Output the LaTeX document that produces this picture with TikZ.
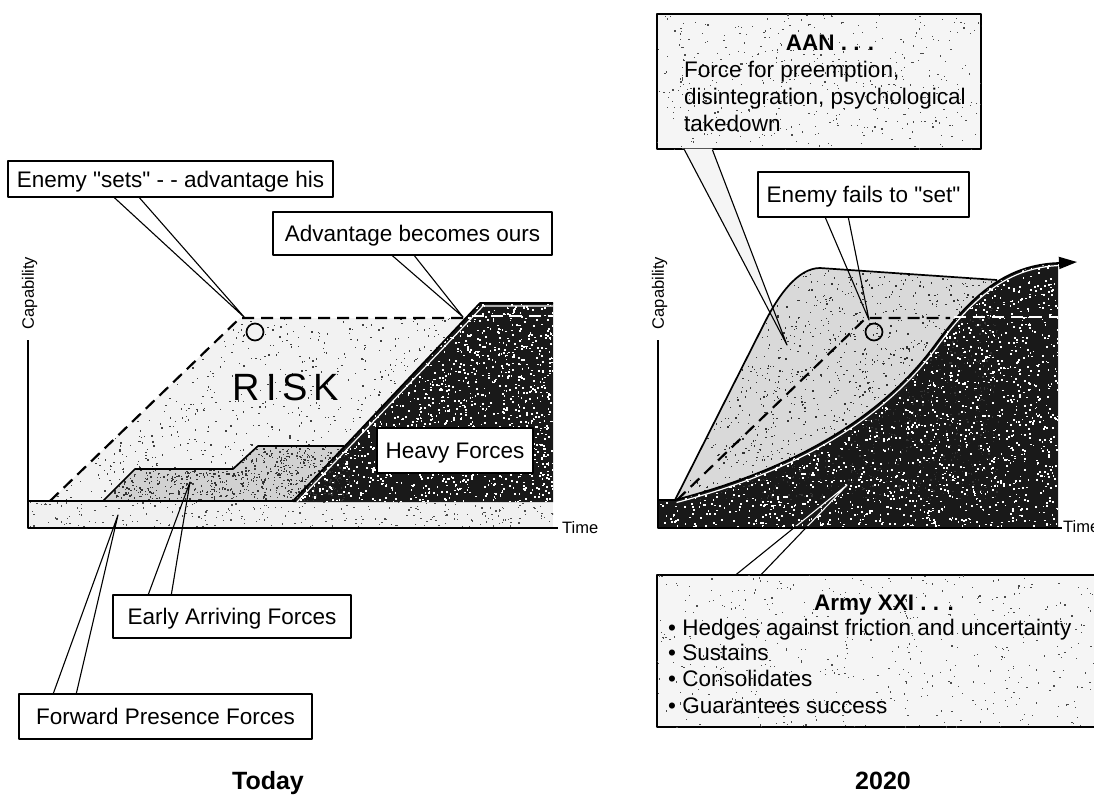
\documentclass[tikz,border=0pt]{standalone}
\usepackage{fontspec}
\setmainfont{Liberation Sans}[Ligatures=TeXOff]
\usetikzlibrary{calc,arrows.meta}
\definecolor{riskgray}{gray}{0.95}
\definecolor{earlygray}{gray}{0.82}
\definecolor{stripgray}{gray}{0.94}
\definecolor{heavygray}{gray}{0.10}
\definecolor{aangray}{gray}{0.85}
\definecolor{boxgray}{gray}{0.96}

% random stipple: count, colour, x0, y0, width, height, dot size
\newcommand\scatterdots[7]{%
  \foreach \i in {1,...,#1}{%
    \pgfmathsetmacro\spx{#3+rnd*#5}%
    \pgfmathsetmacro\spy{#4+rnd*#6}%
    \fill[#2] (\spx,\spy) rectangle ++(#7,#7);
  }}

\begin{document}
\begin{tikzpicture}[x=1pt,y=-1pt,line join=round,
  txt/.style={font=\fontsize{22.5}{27}\selectfont, inner sep=0pt, text height=16pt, text depth=0pt},
  axislbl/.style={font=\fontsize{16.5}{18}\selectfont, inner sep=0pt},
  callbox/.style={txt, draw=black, line width=1.3pt, fill=white},
  stipbox/.style={draw=black, line width=1.3pt, fill=boxgray, inner sep=0pt},
  pointer/.style={line width=1.1pt},
  bound/.style={line width=1.7pt},
  guide/.style={line width=2.2pt, dash pattern=on 12pt off 7pt},
  setring/.style={circle, draw=black, line width=1.7pt, minimum size=17pt, inner sep=0pt},
  heading/.style={font=\fontsize{25}{30}\selectfont\bfseries, inner sep=0pt, text height=17pt, text depth=0pt},
]
\useasboundingbox (0,0) rectangle (1094,795);
\clip (0,0) rectangle (1094,795);
\pgfmathsetseed{4711}

% ================= Today =================
% forward presence strip
\fill[stripgray] (28,501) rectangle (553,528);
% risk area between the enemy build-up and our capability
\fill[riskgray] (50,501) -- (240,318) -- (466,318) -- (293,501) -- cycle;
% early arriving forces
\fill[earlygray] (103,501) -- (135,469) -- (233,469) -- (258,446) -- (350,446) -- (350,501) -- cycle;
% heavy forces
\fill[heavygray] (293,502) -- (480,303) -- (553,303) -- (553,502) -- cycle;

% stipple textures
\begin{scope}
  \clip (28,501) rectangle (553,528);
  \scatterdots{260}{black!70}{28}{501}{525}{27}{1.3}
\end{scope}
\begin{scope}
  \clip (50,501) -- (240,318) -- (466,318) -- (293,501) -- cycle;
  \scatterdots{900}{black!75}{50}{318}{416}{183}{1.3}
\end{scope}
\begin{scope}
  \clip (103,501) -- (135,469) -- (233,469) -- (258,446) -- (350,446) -- (350,501) -- cycle;
  \scatterdots{800}{black!80}{103}{446}{247}{55}{1.4}
\end{scope}
\begin{scope}
  \clip (293,502) -- (480,303) -- (553,303) -- (553,502) -- cycle;
  \scatterdots{1900}{white}{293}{303}{260}{199}{1.7}
\end{scope}

\draw[white, line width=1.2pt] (297,502) -- (483,306) -- (553,306);
\draw[bound] (293,501) -- (480,303) -- (553,303);
\draw[white, guide, line width=1.5pt] (472,316) -- (553,316);
\draw[bound] (103,501) -- (135,469) -- (233,469) -- (258,446) -- (344,446);
\draw[guide] (50,501) -- (240,318) -- (466,318);
\draw[bound] (28,501) -- (296,501);
\draw[bound] (28,340) -- (28,528) -- (558,528);
\node[axislbl, anchor=west] (timeL) at (562,528) {Time};
\node[axislbl, rotate=90] (capL) at (29.5,293) {Capability};
\node[setring] (setL) at (255,332) {};
\node[font=\fontsize{38}{40}\selectfont, inner sep=0pt] (risk) at (286,387) {R\hspace{6pt}I\hspace{6pt}S\hspace{6pt}K};

% callouts
\node[callbox, minimum width=325pt, minimum height=36pt] (enemyBox) at (170.5,179) {Enemy "sets" - - advantage his};
\coordinate (enemyTip) at (245,318);
\draw[pointer] ($(enemyBox.south west)+(107,0)$) -- (enemyTip) -- ($(enemyBox.south west)+(132,0)$);

\node[callbox, minimum width=279pt, minimum height=43pt] (advBox) at (412.5,233.5) {Advantage becomes ours};
\coordinate (advTip) at (463,317);
\draw[pointer] ($(advBox.south west)+(120,0)$) -- (advTip) -- ($(advBox.south west)+(142,0)$);

\node[callbox, minimum width=156pt, minimum height=45pt] (heavyBox) at (455,450.5) {Heavy Forces};

\node[callbox, minimum width=238pt, minimum height=43pt] (earlyBox) at (232,616.5) {Early Arriving Forces};
\coordinate (earlyTip) at (190,482);
\draw[pointer] ($(earlyBox.north west)+(36,0)$) -- (earlyTip) -- ($(earlyBox.north west)+(59,0)$);

\node[callbox, minimum width=293pt, minimum height=45pt] (fwdBox) at (165.5,716.5) {Forward Presence Forces};
\coordinate (fwdTip) at (118,515);
\draw[pointer] ($(fwdBox.north west)+(35,0)$) -- (fwdTip) -- ($(fwdBox.north west)+(58,0)$);

\node[heading] (today) at (268,781) {Today};

% ================= 2020 =================
\node[stipbox, minimum width=324pt, minimum height=135pt] (aanBox) at (819,81.5) {};
\coordinate (aanTip) at (787,345);
\fill[boxgray] ($(aanBox.south west)+(28,-1)$) -- (aanTip) -- ($(aanBox.south west)+(56,-1)$) -- cycle;
\begin{scope}
  \clip (657,14) rectangle (981,149);
  \scatterdots{450}{black!70}{657}{14}{324}{135}{1.2}
\end{scope}

% AAN capability
\fill[aangray] (675,500) -- (765,322) .. controls (778.5,295) and (798,268) .. (820,268) -- (997,280) -- (1000,500) -- cycle;
% Army XXI capability
\fill[heavygray] (658,528) -- (658,500) -- (675,500) .. controls (790,470) and (880,420) .. (935,345) .. controls (975,290) and (1010,265) .. (1058,263) -- (1058,528) -- cycle;

\begin{scope}
  \clip (675,500) -- (765,322) .. controls (778.5,295) and (798,268) .. (820,268) -- (997,280) -- (1000,500) -- cycle;
  \scatterdots{1500}{black!80}{675}{268}{325}{232}{1.3}
\end{scope}
\begin{scope}
  \clip (658,528) -- (658,500) -- (675,500) .. controls (790,470) and (880,420) .. (935,345) .. controls (975,290) and (1010,265) .. (1058,263) -- (1058,528) -- cycle;
  \scatterdots{2800}{white}{658}{263}{400}{265}{1.7}
\end{scope}

\draw[white, line width=1.2pt, shift={(1.5,2.5)}] (675,500) .. controls (790,470) and (880,420) .. (935,345) .. controls (975,290) and (1010,265) .. (1058,263);
\draw[bound, -{Triangle[length=18pt,width=12pt]}] (675,500) .. controls (790,470) and (880,420) .. (935,345) .. controls (975,290) and (1010,265) .. (1058,263) -- (1077,262);
\draw[bound] (675,500) -- (765,322) .. controls (778.5,295) and (798,268) .. (820,268) -- (997,280);
\draw[white, guide, line width=1.5pt] (954,317) -- (1058,317);
\draw[guide] (677,500) -- (866,318) -- (950,318);
\draw[bound] (658,500) -- (675,500);
\draw[bound] (658,340) -- (658,528) -- (1062,528);
\node[axislbl, anchor=west] (timeR) at (1063,527) {Time};
\node[axislbl, rotate=90] (capR) at (659.5,293) {Capability};
\node[setring] (setR) at (874,332) {};

% AAN callout
\draw[pointer] ($(aanBox.south west)+(28,0)$) -- (aanTip) -- ($(aanBox.south west)+(56,0)$);
\node[txt] (aanHead) at (830,42) {\textbf{AAN . . .}};
\node[txt, anchor=west] (aanL1) at (684,69) {Force for preemption,};
\node[txt, anchor=west] (aanL2) at (684,96) {disintegration, psychological};
\node[txt, anchor=west] (aanL3) at (684,123) {takedown};

% enemy fails callout
\node[callbox, minimum width=211pt, minimum height=45pt] (failBox) at (863.5,194.5) {Enemy fails to "set"};
\coordinate (failTip) at (869,320);
\draw[pointer] ($(failBox.south west)+(68,0)$) -- (failTip) -- ($(failBox.south west)+(91,0)$);

% Army XXI callout
\node[stipbox, minimum width=463pt, minimum height=152pt] (armyBox) at (888.5,651) {};
\begin{scope}
  \clip (657,575) rectangle (1094,727);
  \scatterdots{500}{black!70}{657}{575}{437}{152}{1.2}
\end{scope}
\coordinate (armyTip) at (847,485);
\draw[pointer] ($(armyBox.north west)+(80,0)$) -- (armyTip) -- ($(armyBox.north west)+(105,0)$);
\begin{scope}
  \clip (658,526) -- (658,500) -- (675,500) .. controls (790,470) and (880,420) .. (935,345) .. controls (975,290) and (1010,265) .. (1058,263) -- (1058,526) -- cycle;
  \draw[pointer, white] ($(armyBox.north west)+(80,0)$) -- (armyTip) -- ($(armyBox.north west)+(105,0)$);
\end{scope}
\node[txt] (armyHead) at (884,602) {\textbf{Army XXI . . .}};
\node[txt, anchor=west] (armyL1) at (668,627) {• Hedges against friction and uncertainty};
\node[txt, anchor=west] (armyL2) at (668,652) {• Sustains};
\node[txt, anchor=west] (armyL3) at (668,678) {• Consolidates};
\node[txt, anchor=west] (armyL4) at (668,705) {• Guarantees success};

\node[heading] (y2020) at (883,781) {2020};
\end{tikzpicture}
\end{document}
